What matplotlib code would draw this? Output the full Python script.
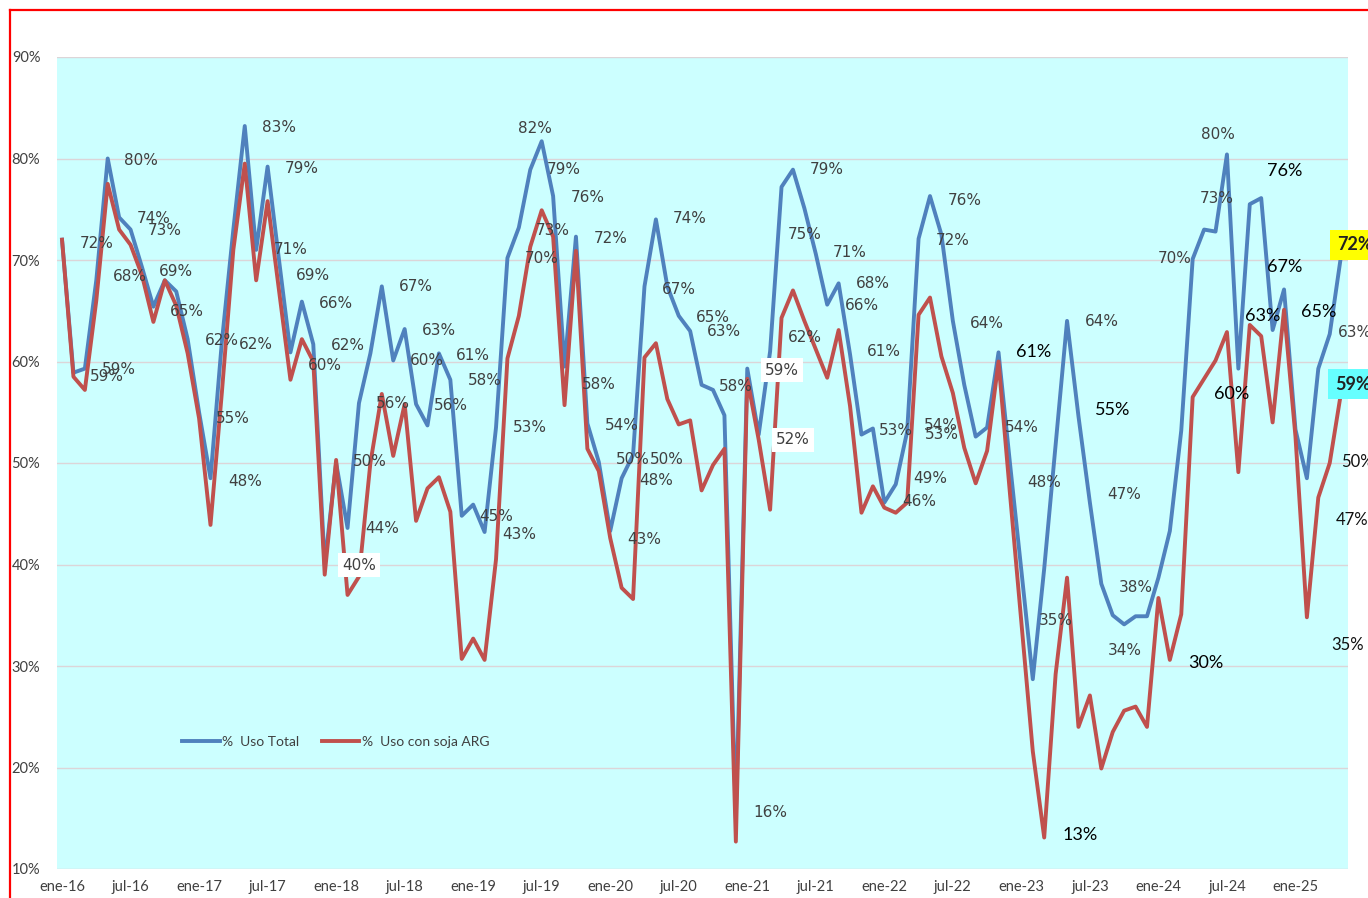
import numpy as np
import matplotlib.pyplot as plt
from matplotlib.lines import Line2D

# Serie mensual ene-16 .. may-25 (%)
uso_total = [72, 58.9, 59.3, 68, 80, 74.2, 73, 69.3, 65.4, 68, 66.9, 62.2,
             55, 48.5, 62, 73, 83.2, 71, 79.2, 70, 60.9, 65.9, 61.7, 40,
             50, 43.6, 55.9, 60.8, 67.4, 60.1, 63.2, 55.8, 53.7, 60.8, 58.2, 44.8,
             45.9, 43.2, 53.5, 70.2, 73.2, 78.9, 81.7, 76.3, 59.5, 72.3, 53.9, 50.1,
             43.3, 48.5, 50.8, 67.4, 74, 67.4, 64.5, 63, 57.7, 57.2, 54.7, 15,
             59.3, 52.8, 61, 77.2, 78.9, 75.1, 70.6, 65.6, 67.7, 60.7, 52.8, 53.4,
             46.1, 47.9, 53.1, 72.1, 76.3, 72.5, 64, 57.7, 52.6, 53.5, 60.9, 50,
             39.4, 28.7, 39.6, 51.8, 64, 54.6, 46.1, 38.1, 35, 34.1, 34.9, 34.9,
             38.7, 43.3, 53.2, 70.1, 73, 72.8, 80.4, 59.3, 75.5, 76.1, 63.1, 67.1,
             53.3, 48.5, 59.3, 62.7, 70.5]
uso_soja = [72, 58.5, 57.2, 66, 77.5, 73, 71.5, 68.5, 63.9, 68, 65.5, 60.8,
            54.4, 43.9, 57, 71, 79.5, 68, 75.8, 67, 58.2, 62.2, 60, 39,
            50.3, 37, 38.8, 50, 56.8, 50.7, 55.8, 44.3, 47.5, 48.6, 45.2, 30.7,
            32.7, 30.6, 40.5, 60.3, 64.5, 71.3, 74.9, 72.3, 55.7, 70.9, 51.4, 49.2,
            42.6, 37.7, 36.6, 60.4, 61.8, 56.3, 53.8, 54.2, 47.3, 49.8, 51.4, 12.7,
            58.3, 52.3, 45.4, 64.3, 67, 64, 61.2, 58.4, 63.1, 55.6, 45.1, 47.7,
            45.6, 45.1, 46.1, 64.6, 66.3, 60.5, 56.9, 51.5, 48, 51.2, 60, 47,
            34.3, 21.6, 13.1, 29.2, 38.7, 24, 27.1, 19.9, 23.5, 25.6, 26, 24,
            36.7, 30.6, 35.1, 56.5, 58.3, 60.1, 62.9, 49.1, 63.6, 62.5, 54, 65.1,
            52.6, 34.8, 46.6, 50, 57]

meses_tick = ["ene-16", "jul-16", "ene-17", "jul-17", "ene-18", "jul-18", "ene-19",
              "jul-19", "ene-20", "jul-20", "ene-21", "jul-21", "ene-22", "jul-22",
              "ene-23", "jul-23", "ene-24", "jul-24", "ene-25"]

# etiquetas de datos (mes, %, texto) tal como quedaron movidas en el original
lbl_gris = [(3.06, 71.67, "72%"), (6.92, 79.85, "80%"), (3.94, 58.57, "59%"),
            (4.99, 59.26, "59%"), (8.06, 74.04, "74%"), (9.02, 72.86, "73%"),
            (5.95, 68.33, "68%"), (9.98, 68.82, "69%"), (10.95, 64.88, "65%"),
            (14.01, 62.02, "62%"), (16.99, 61.72, "62%"), (14.97, 54.43, "55%"),
            (16.02, 48.13, "48%"), (19.0, 83.1, "83%"), (21.02, 79.06, "79%"),
            (20.05, 70.99, "71%"), (21.98, 68.52, "69%"), (23.99, 65.76, "66%"),
            (25.04, 61.53, "62%"), (23.03, 59.56, "60%"), (31.0, 67.34, "67%"),
            (33.01, 63.1, "63%"), (31.96, 60.05, "60%"), (28.98, 55.91, "56%"),
            (34.06, 55.71, "56%"), (35.99, 60.64, "61%"), (37.04, 58.08, "58%"),
            (26.97, 50.1, "50%"), (28.02, 43.5, "44%"), (38.0, 44.68, "45%"),
            (41.42, 83.0, "82%"), (43.96, 78.87, "79%"), (46.06, 76.11, "76%"),
            (43.0, 72.86, "73%"), (42.03, 70.1, "70%"), (48.07, 72.07, "72%"),
            (54.99, 74.04, "74%"), (54.03, 67.14, "67%"), (57.01, 64.38, "65%"),
            (57.97, 63.0, "63%"), (47.02, 57.78, "58%"), (59.02, 57.49, "58%"),
            (40.98, 53.45, "53%"), (49.04, 53.74, "54%"), (50.0, 50.3, "50%"),
            (52.98, 50.3, "50%"), (52.01, 48.23, "48%"), (50.96, 42.51, "43%"),
            (40.02, 43.0, "43%"), (66.99, 78.87, "79%"), (65.06, 72.56, "75%"),
            (69.0, 70.69, "71%"), (71.02, 67.73, "68%"), (70.05, 65.47, "66%"),
            (65.06, 62.32, "62%"), (71.98, 60.94, "61%"), (73.03, 53.25, "53%"),
            (79.07, 75.91, "76%"), (78.02, 71.97, "72%"), (81.0, 63.79, "64%"),
            (76.97, 53.74, "54%"), (77.06, 52.76, "53%"), (76.01, 48.52, "49%"),
            (75.04, 46.16, "46%"), (62.0, 15.52, "16%"), (84.06, 53.45, "54%"),
            (85.99, 48.03, "48%"), (87.04, 34.53, "35%"), (91.07, 63.99, "64%"),
            (93.0, 46.85, "47%"), (94.05, 37.78, "38%"), (93.08, 31.48, "34%"),
            (97.46, 70.1, "70%"), (101.14, 76.01, "73%"), (101.23, 82.41, "80%")]
lbl_blanco = [(26.01, 39.95, "40%"), (63.05, 59.16, "59%"), (64.01, 52.27, "52%")]
lbl_negro = [(85.03, 60.94, "61%"), (92.03, 55.22, "55%"), (89.14, 13.35, "13%"),
             (100.18, 30.3, "30%"), (102.45, 56.8, "60%"), (107.09, 78.77, "76%"),
             (107.09, 69.31, "67%"), (105.17, 64.48, "63%"), (110.07, 64.88, "65%")]
lbl_borde = [(111.73, 62.81, "63%"), (112.0, 50.1, "50%"), (111.56, 44.38, "47%"),
             (111.1, 32.07, "35%")]
ult_total = (111.65, 71.48, "72%")
ult_soja = (111.47, 57.78, "59%")

GRIS = "#404040"

fig = plt.figure(figsize=(13.68, 8.98), dpi=100)
ax = fig.add_axes([57 / 1368, 29 / 898, 1291 / 1368, 812 / 898])
ax.set_facecolor("#CCFFFF")

x = np.arange(len(uso_total))
ax.plot(x, uso_total, color="#4F81BD", lw=2.8, solid_joinstyle="round",
        label="%  Uso Total", zorder=3)
ax.plot(x, uso_soja, color="#C0504D", lw=2.8, solid_joinstyle="round",
        label="%  Uso con soja ARG", zorder=3)

ax.set_xlim(-0.44, 112.6)
ax.set_ylim(10, 90)
ax.set_yticks(range(10, 91, 10))
ax.set_yticklabels([f"{v}%" for v in range(10, 91, 10)], family="Lato",
                   fontsize=10.5, color=GRIS)
ax.set_xticks(range(0, len(uso_total), 6))
ax.set_xticklabels(meses_tick, family="Lato", fontsize=10.5, color=GRIS)
ax.tick_params(axis="y", length=0, pad=12)
ax.tick_params(axis="x", length=0, pad=8)
ax.yaxis.grid(True, color="#DCD5D8", lw=1.0)
ax.set_axisbelow(True)
for s in ax.spines.values():
    s.set_visible(False)

for m, p, t in lbl_gris:
    ax.text(m, p, t, ha="center", va="center", fontsize=11,
            family="DejaVu Sans", color=GRIS, zorder=4)
for m, p, t in lbl_blanco:
    ax.text(m, p, t, ha="center", va="center", fontsize=11,
            family="DejaVu Sans", color=GRIS, zorder=5,
            bbox=dict(facecolor="white", edgecolor="none", pad=3))
for m, p, t in lbl_negro:
    ax.text(m, p, t, ha="center", va="center", fontsize=13,
            family="Lato", color="black", zorder=4)
for m, p, t in lbl_borde:
    fam = "DejaVu Sans" if t == "63%" else "Lato"
    ax.text(m, p, t, ha="left", va="center", fontsize=11 if t == "63%" else 12,
            family=fam, color=GRIS if t == "63%" else "#111111", zorder=4)
ax.text(*ult_total, ha="left", va="center", fontsize=13, family="Lato",
        weight="bold", color="#222222", zorder=5,
        bbox=dict(facecolor="#FFFF00", edgecolor="none", pad=5))
ax.text(*ult_soja, ha="left", va="center", fontsize=13, family="Lato",
        weight="bold", color="#222222", zorder=5,
        bbox=dict(facecolor="#66FFFF", edgecolor="none", pad=5))

ax.legend(loc="center", bbox_to_anchor=(0.216, 0.156), ncol=2, frameon=False,
          handlelength=2.7, handletextpad=0.2, columnspacing=1.6,
          prop={"family": "Lato", "size": 10}, labelcolor=GRIS)

# marco rojo del recorte
fig.add_artist(Line2D([10 / 1368, 1], [1 - 10 / 898] * 2, transform=fig.transFigure,
                      color="red", lw=1.6))
fig.add_artist(Line2D([10 / 1368] * 2, [0, 1 - 10 / 898], transform=fig.transFigure,
                      color="red", lw=1.6))

fig.savefig("out.png", dpi=100)
